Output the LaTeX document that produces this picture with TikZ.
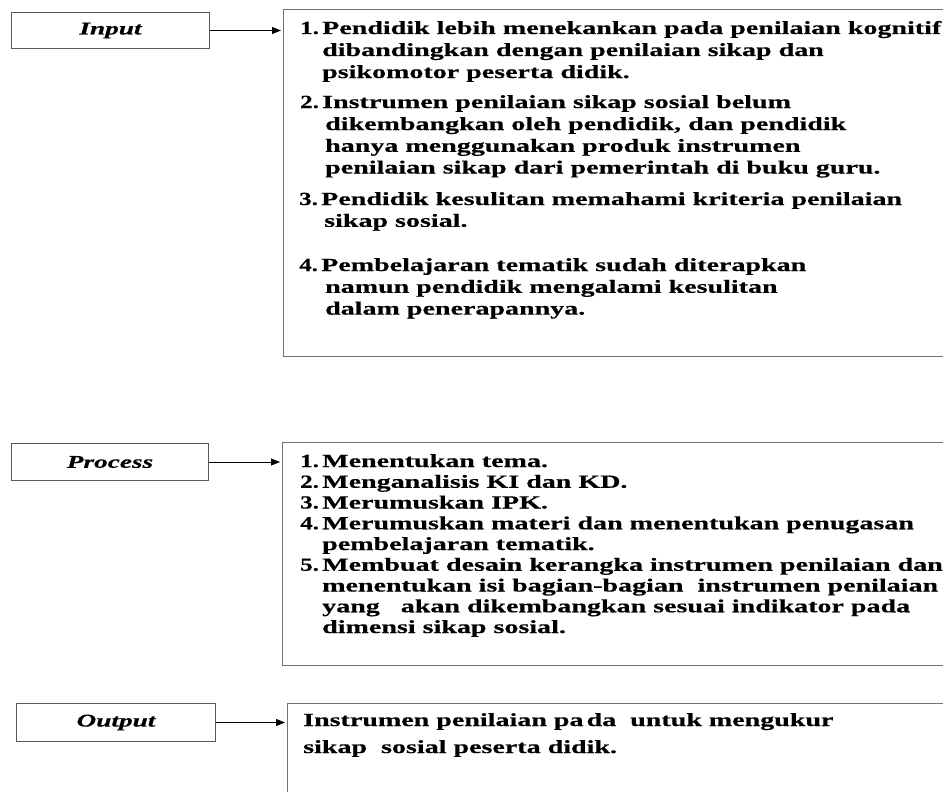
\documentclass[tikz,border=0pt]{standalone}
\usepackage{fontspec}
\newfontfamily\bodyfont[FakeStretch=1.515,FakeBold=0.4]{Liberation Serif}
\newfontfamily\numfont[FakeStretch=1.35,FakeBold=0.4]{Liberation Serif}
\newcommand{\num}[2]{\makebox[#1][l]{\numfont\bfseries #2}}
\usetikzlibrary{arrows.meta}
\begin{document}
\begin{tikzpicture}[x=1pt,y=-1pt,
  lbl/.style={draw=black!65, line width=1pt, inner sep=0pt, anchor=north west,
    font=\bodyfont\fontsize{18}{21}\selectfont\bfseries\itshape},
  bigbox/.style={draw=black!55, line width=1.2pt, anchor=north west, inner sep=0pt},
  ln/.style={anchor=base west, inner sep=0pt, font=\bodyfont\fontsize{18.5}{21}\selectfont\bfseries},
  arr/.style={-{Triangle[length=9pt,width=7pt]}, line width=0.9pt, shorten >=2pt}]
\useasboundingbox (0,0) rectangle (943,792);
\clip (0,0) rectangle (943,792);

% left labels
\node[lbl, minimum width=198pt, minimum height=36pt] (input) at (11,12) {Input};
\node[lbl, minimum width=197pt, minimum height=37pt] (process) at (11,443) {Process};
\node[lbl, minimum width=199pt, minimum height=38pt] (output) at (16,703) {Output};

% right boxes
\node[bigbox, minimum width=690pt, minimum height=347pt] (inbox) at (283,9) {};
\node[bigbox, minimum width=690pt, minimum height=223pt] (procbox) at (282,442) {};
\node[bigbox, minimum width=690pt, minimum height=140pt] (outbox) at (287,703) {};

% connectors
\draw[arr] (input.east) -- (input.east -| inbox.west);
\draw[arr] (process.east) -- (process.east -| procbox.west);
\draw[arr] (output.east) -- (output.east -| outbox.west);

% input text
\node[ln] (i1a) at (300,34) {\num{22pt}{1.}Pendidik lebih menekankan pada penilaian kognitif};
\node[ln] (i1b) at (322,56) {dibandingkan dengan penilaian sikap dan};
\node[ln] (i1c) at (322,78) {psikomotor peserta didik.};
\node[ln] (i2a) at (300,108) {\num{22pt}{2.}Instrumen penilaian sikap sosial belum};
\node[ln] (i2b) at (325,130) {dikembangkan oleh pendidik, dan pendidik};
\node[ln] (i2c) at (325,151.8) {hanya menggunakan produk instrumen};
\node[ln] (i2d) at (325,173.5) {penilaian sikap dari pemerintah di buku guru.};
\node[ln] (i3a) at (299,205) {\num{22pt}{3.}Pendidik kesulitan memahami kriteria penilaian};
\node[ln] (i3b) at (324,226.8) {sikap sosial.};
\node[ln] (i4a) at (299,271) {\num{22pt}{4.}Pembelajaran tematik sudah diterapkan};
\node[ln] (i4b) at (325,292.8) {namun pendidik mengalami kesulitan};
\node[ln] (i4c) at (325,314.6) {dalam penerapannya.};

% process text
\node[ln] (p1) at (300,467) {\num{22pt}{1.}Menentukan tema.};
\node[ln] (p2) at (300,487.75) {\num{22pt}{2.}Menganalisis KI dan KD.};
\node[ln] (p3) at (300,508.5) {\num{22pt}{3.}Merumuskan IPK.};
\node[ln] (p4a) at (300,529.25) {\num{22pt}{4.}Merumuskan materi dan menentukan penugasan};
\node[ln] (p4b) at (322,550) {pembelajaran tematik.};
\node[ln] (p5a) at (300,570.75) {\num{22pt}{5.}Membuat desain kerangka instrumen penilaian dan};
\node[ln] (p5b) at (322,591.5) {menentukan isi bagian-bagian\ \ instrumen penilaian};
\node[ln] (p5c) at (322,612.25) {yang\ \ \ akan dikembangkan sesuai indikator pada};
\node[ln] (p5d) at (322,633) {dimensi sikap sosial.};

% output text
\node[ln] (o1) at (303,726) {Instrumen penilaian pa\,da\ \ untuk mengukur};
\node[ln] (o2) at (303,753) {sikap\ \ sosial peserta didik.};
\end{tikzpicture}
\end{document}
